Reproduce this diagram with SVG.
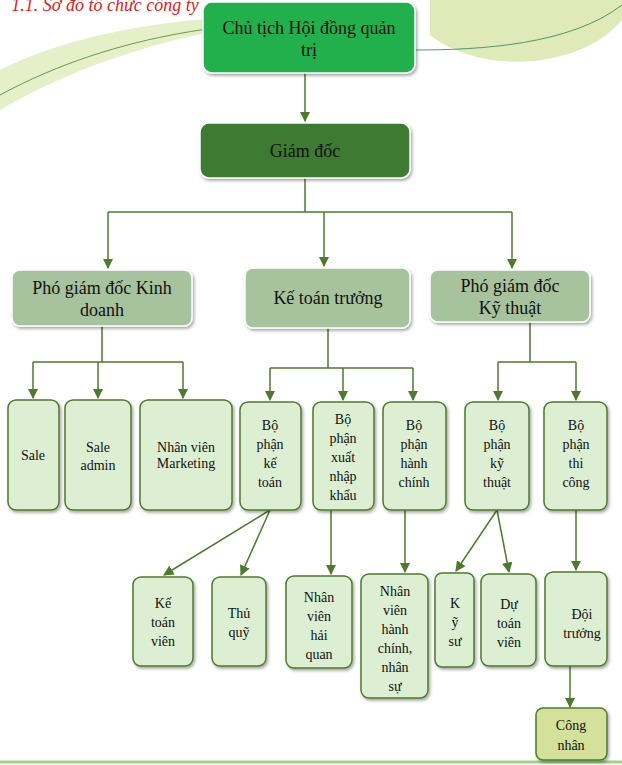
<svg xmlns="http://www.w3.org/2000/svg" width="622" height="765" viewBox="0 0 622 765">
<defs>
<marker id="ar" viewBox="0 0 10 10" refX="9" refY="5" markerWidth="7" markerHeight="7" orient="auto"><path d="M0,0 L10,5 L0,10 z" fill="#4f7a2e"/></marker>
<filter id="sh" x="-10%" y="-10%" width="130%" height="130%"><feDropShadow dx="1.5" dy="2" stdDeviation="1.5" flood-color="#000" flood-opacity="0.35"/></filter>
</defs>
<style>
text{font-family:"Liberation Serif","DejaVu Serif",serif;fill:#111;text-anchor:middle}
.l{stroke:#4f7a2e;stroke-width:1.5;fill:none}
.la{stroke:#4f7a2e;stroke-width:1.5;fill:none;marker-end:url(#ar)}
.b3{fill:#dcefd2;stroke:#4f7a2e;stroke-width:1.5;filter:url(#sh)}
.b2{fill:#a6c39d;stroke:#fff;stroke-width:1.5;filter:url(#sh)}
.t{font-size:14px}
.t2{font-size:18px}
</style>
<rect width="622" height="765" fill="#fff"/>
<g id="bg">
<path d="M0,70 C100,20 250,10 330,20 C260,18 120,40 0,110 Z" fill="#e5efc8"/>
<path d="M430,0 L622,0 L622,20 C580,70 480,75 430,35 Z" fill="#dfeab8"/>
<path d="M0,95 C120,30 250,20 330,22" stroke="#6a9a4a" fill="none"/>
<path d="M415,50 C480,50 570,45 622,5" stroke="#4a9a6a" fill="none"/>
<line x1="0" y1="762" x2="622" y2="762" stroke="#9fd38a" stroke-width="3"/>
<text x="105" y="11" style="font-size:18px;font-style:italic;fill:#e02020">1.1. Sơ đồ tổ chức công ty</text>
</g>
<g id="connectors">
<line class="la" x1="305" y1="73" x2="305" y2="121"/>
<path class="l" d="M305,178 V212 M108,212 H512"/>
<line class="la" x1="108" y1="212" x2="108" y2="268"/>
<line class="la" x1="324" y1="212" x2="324" y2="266"/>
<line class="la" x1="512" y1="212" x2="512" y2="268"/>
<path class="l" d="M102,326 V362 M33,362 H183"/>
<line class="la" x1="33" y1="362" x2="33" y2="398"/>
<line class="la" x1="98" y1="362" x2="98" y2="398"/>
<line class="la" x1="183" y1="362" x2="183" y2="398"/>
<path class="l" d="M328,328 V368 M270,368 H413"/>
<line class="la" x1="270" y1="368" x2="270" y2="400"/>
<line class="la" x1="343" y1="368" x2="343" y2="400"/>
<line class="la" x1="413" y1="368" x2="413" y2="400"/>
<path class="l" d="M530,322 V362 M498,362 H576"/>
<line class="la" x1="498" y1="362" x2="498" y2="400"/>
<line class="la" x1="576" y1="362" x2="576" y2="400"/>
<line class="la" x1="270" y1="510" x2="164" y2="575"/>
<line class="la" x1="270" y1="510" x2="241" y2="575"/>
<line class="la" x1="331" y1="510" x2="331" y2="574"/>
<line class="la" x1="405" y1="510" x2="405" y2="572"/>
<line class="la" x1="497" y1="510" x2="456" y2="571"/>
<line class="la" x1="497" y1="510" x2="509" y2="572"/>
<line class="la" x1="576" y1="510" x2="576" y2="570"/>
<line class="la" x1="570" y1="666" x2="570" y2="707"/>
</g>
<g id="n-ct"><rect x="203" y="2" width="212" height="71" rx="9" fill="#20b04e" stroke="#fff" stroke-width="1.5" filter="url(#sh)"/><text class="t2" x="309" y="34">Chủ tịch Hội đồng quản</text><text class="t2" x="309" y="56">trị</text></g>
<g id="n-gd"><rect x="200" y="123" width="210" height="55" rx="9" fill="#3c7a30" stroke="#fff" stroke-width="1.5" filter="url(#sh)"/><text class="t2" x="305" y="157">Giám đốc</text></g>
<g id="n-pkd"><rect class="b2" x="12" y="270" width="180" height="56" rx="8"/><text class="t2" x="102" y="294">Phó giám đốc Kinh</text><text class="t2" x="102" y="316">doanh</text></g>
<g id="n-ktt"><rect class="b2" x="245" y="268" width="165" height="60" rx="8"/><text class="t2" x="328" y="304">Kế toán trưởng</text></g>
<g id="n-pkt"><rect class="b2" x="430" y="270" width="160" height="52" rx="8"/><text class="t2" x="510" y="292">Phó giám đốc</text><text class="t2" x="510" y="314">Kỹ thuật</text></g>
<g id="n-sale"><rect class="b3" x="8" y="400" width="51" height="110" rx="8"/><text class="t" x="33" y="460">Sale</text></g>
<g id="n-sa"><rect class="b3" x="65" y="400" width="66" height="110" rx="8"/><text class="t" x="98" y="452">Sale</text><text class="t" x="98" y="470">admin</text></g>
<g id="n-mk"><rect class="b3" x="140" y="400" width="92" height="110" rx="8"/><text class="t" x="186" y="452">Nhân viên</text><text class="t" x="186" y="468">Marketing</text></g>
<g id="n-bkt"><rect class="b3" x="240" y="402" width="61" height="108" rx="8"/><text class="t" x="270" y="430">Bộ</text><text class="t" x="270" y="449">phận</text><text class="t" x="270" y="468">kế</text><text class="t" x="270" y="487">toán</text></g>
<g id="n-xnk"><rect class="b3" x="313" y="402" width="61" height="108" rx="8"/><text class="t" x="343" y="424">Bộ</text><text class="t" x="343" y="443">phận</text><text class="t" x="343" y="462">xuất</text><text class="t" x="343" y="481">nhập</text><text class="t" x="343" y="500">khẩu</text></g>
<g id="n-hc"><rect class="b3" x="383" y="402" width="63" height="108" rx="8"/><text class="t" x="414" y="430">Bộ</text><text class="t" x="414" y="449">phận</text><text class="t" x="414" y="468">hành</text><text class="t" x="414" y="487">chính</text></g>
<g id="n-kth"><rect class="b3" x="465" y="402" width="64" height="108" rx="8"/><text class="t" x="497" y="430">Bộ</text><text class="t" x="497" y="449">phận</text><text class="t" x="497" y="468">kỹ</text><text class="t" x="497" y="487">thuật</text></g>
<g id="n-tc"><rect class="b3" x="544" y="402" width="63" height="108" rx="8"/><text class="t" x="576" y="430">Bộ</text><text class="t" x="576" y="449">phận</text><text class="t" x="576" y="468">thi</text><text class="t" x="576" y="487">công</text></g>
<g id="n-ktv"><rect class="b3" x="133" y="577" width="60" height="89" rx="8"/><text class="t" x="163" y="608">Kế</text><text class="t" x="163" y="627">toán</text><text class="t" x="163" y="646">viên</text></g>
<g id="n-tq"><rect class="b3" x="212" y="577" width="54" height="89" rx="8"/><text class="t" x="239" y="618">Thủ</text><text class="t" x="239" y="637">quỹ</text></g>
<g id="n-hq"><rect class="b3" x="286" y="576" width="66" height="92" rx="8"/><text class="t" x="319" y="602">Nhân</text><text class="t" x="319" y="621">viên</text><text class="t" x="319" y="640">hải</text><text class="t" x="319" y="659">quan</text></g>
<g id="n-nvhc"><rect class="b3" x="361" y="574" width="67" height="124" rx="8"/><text class="t" x="395" y="596">Nhân</text><text class="t" x="395" y="615">viên</text><text class="t" x="395" y="634">hành</text><text class="t" x="395" y="653">chính,</text><text class="t" x="395" y="672">nhân</text><text class="t" x="395" y="691">sự</text></g>
<g id="n-ks"><rect class="b3" x="435" y="573" width="39" height="94" rx="7"/><text class="t" x="455" y="608">K</text><text class="t" x="455" y="627">ỹ</text><text class="t" x="455" y="646">sư</text></g>
<g id="n-dtv"><rect class="b3" x="481" y="574" width="55" height="92" rx="8"/><text class="t" x="509" y="609">Dự</text><text class="t" x="509" y="628">toán</text><text class="t" x="509" y="647">viên</text></g>
<g id="n-dt"><rect class="b3" x="545" y="572" width="62" height="94" rx="8"/><text class="t" x="582" y="619">Đội</text><text class="t" x="582" y="638">trưởng</text></g>
<g id="n-cn"><rect x="536" y="708" width="71" height="52" rx="7" fill="#d3e19a" stroke="#4f7a2e" stroke-width="1.5" filter="url(#sh)"/><text class="t" x="571" y="730">Công</text><text class="t" x="571" y="750">nhân</text></g>
</svg>
